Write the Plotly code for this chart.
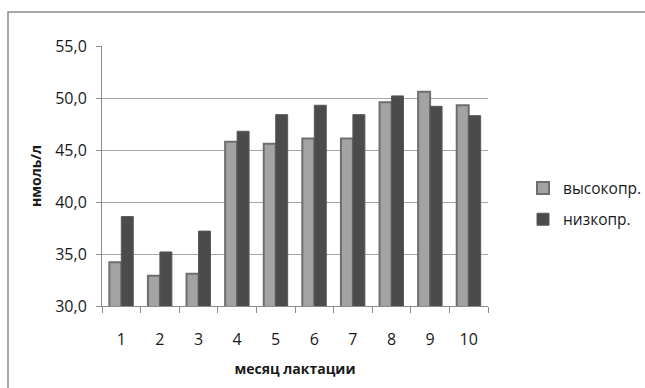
import plotly.graph_objects as go

# Months of lactation and hormone levels (nmol/l) for two productivity groups
months = ["1", "2", "3", "4", "5", "6", "7", "8", "9", "10"]
high_prod = [34.2, 32.9, 33.1, 45.8, 45.6, 46.1, 46.1, 49.6, 50.6, 49.3]
low_prod = [38.6, 35.2, 37.2, 46.8, 48.4, 49.3, 48.4, 50.2, 49.2, 48.3]
y_ticks = [30, 35, 40, 45, 50, 55]

W, H = 645, 388
L, R, T, B = 102, 157, 46, 82
pw, ph = W - L - R, H - T - B

font = "Open Sans, DejaVu Sans, sans-serif"

fig = go.Figure()
fig.add_trace(go.Bar(
    x=months, y=high_prod, name="высокопр.", legendgroup="a",
    marker=dict(color="#a3a3a3", line=dict(color="#6e6e6e", width=2)),
))
fig.add_trace(go.Bar(
    x=months, y=low_prod, name="низкопр.", legendgroup="b",
    marker=dict(color="#4b4b4b", line=dict(color="#595959", width=1)),
))


def px_x(v):
    return (v - L) / pw


def px_y(v):
    return (H - B - v) / ph


fig.update_layout(
    width=W, height=H,
    margin=dict(l=L, r=R, t=T, b=B, autoexpand=False),
    paper_bgcolor="white", plot_bgcolor="white",
    separators=", ",
    barmode="group", bargap=0.38, bargroupgap=0,
    font=dict(family=font, color="#1a1a1a"),
    showlegend=True,
    legend=dict(
        x=px_x(523), y=px_y(204), xanchor="left", yanchor="middle",
        font=dict(size=15.5, family=font, color="#1a1a1a"),
        tracegroupgap=8, itemwidth=30, bgcolor="rgba(0,0,0,0)",
    ),
    xaxis=dict(
        type="category", tickson="boundaries", ticks="outside", ticklen=6,
        tickcolor="#8c8c8c", showline=True, linecolor="#8c8c8c", linewidth=1,
        showgrid=False, tickfont=dict(size=16, family=font, color="#1a1a1a"),
        ticklabelstandoff=19,
        title=dict(text="<b>месяц лактации</b>", font=dict(size=14, family=font, color="#1a1a1a"),
                   standoff=14),
    ),
    yaxis=dict(
        range=[30, 55], tickvals=y_ticks, tickformat=".1f",
        ticks="outside", ticklen=5, tickcolor="#8c8c8c",
        showline=True, linecolor="#8c8c8c", linewidth=1,
        showgrid=True, gridcolor="#a6a6a6", gridwidth=1, zeroline=False,
        tickfont=dict(size=16, family=font, color="#1a1a1a"),
        ticklabelstandoff=6,
        title=dict(text="<b>нмоль/л</b>", font=dict(size=14, family=font, color="#1a1a1a"),
                   standoff=10),
    ),
    shapes=[
        dict(type="rect", xref="paper", yref="paper",
             x0=px_x(8), x1=px_x(W + 10), y0=px_y(H + 10), y1=px_y(12),
             line=dict(color="#8c8c8c", width=1.5), fillcolor="rgba(0,0,0,0)",
             layer="below"),
    ],
)

fig.write_html("out.html")
